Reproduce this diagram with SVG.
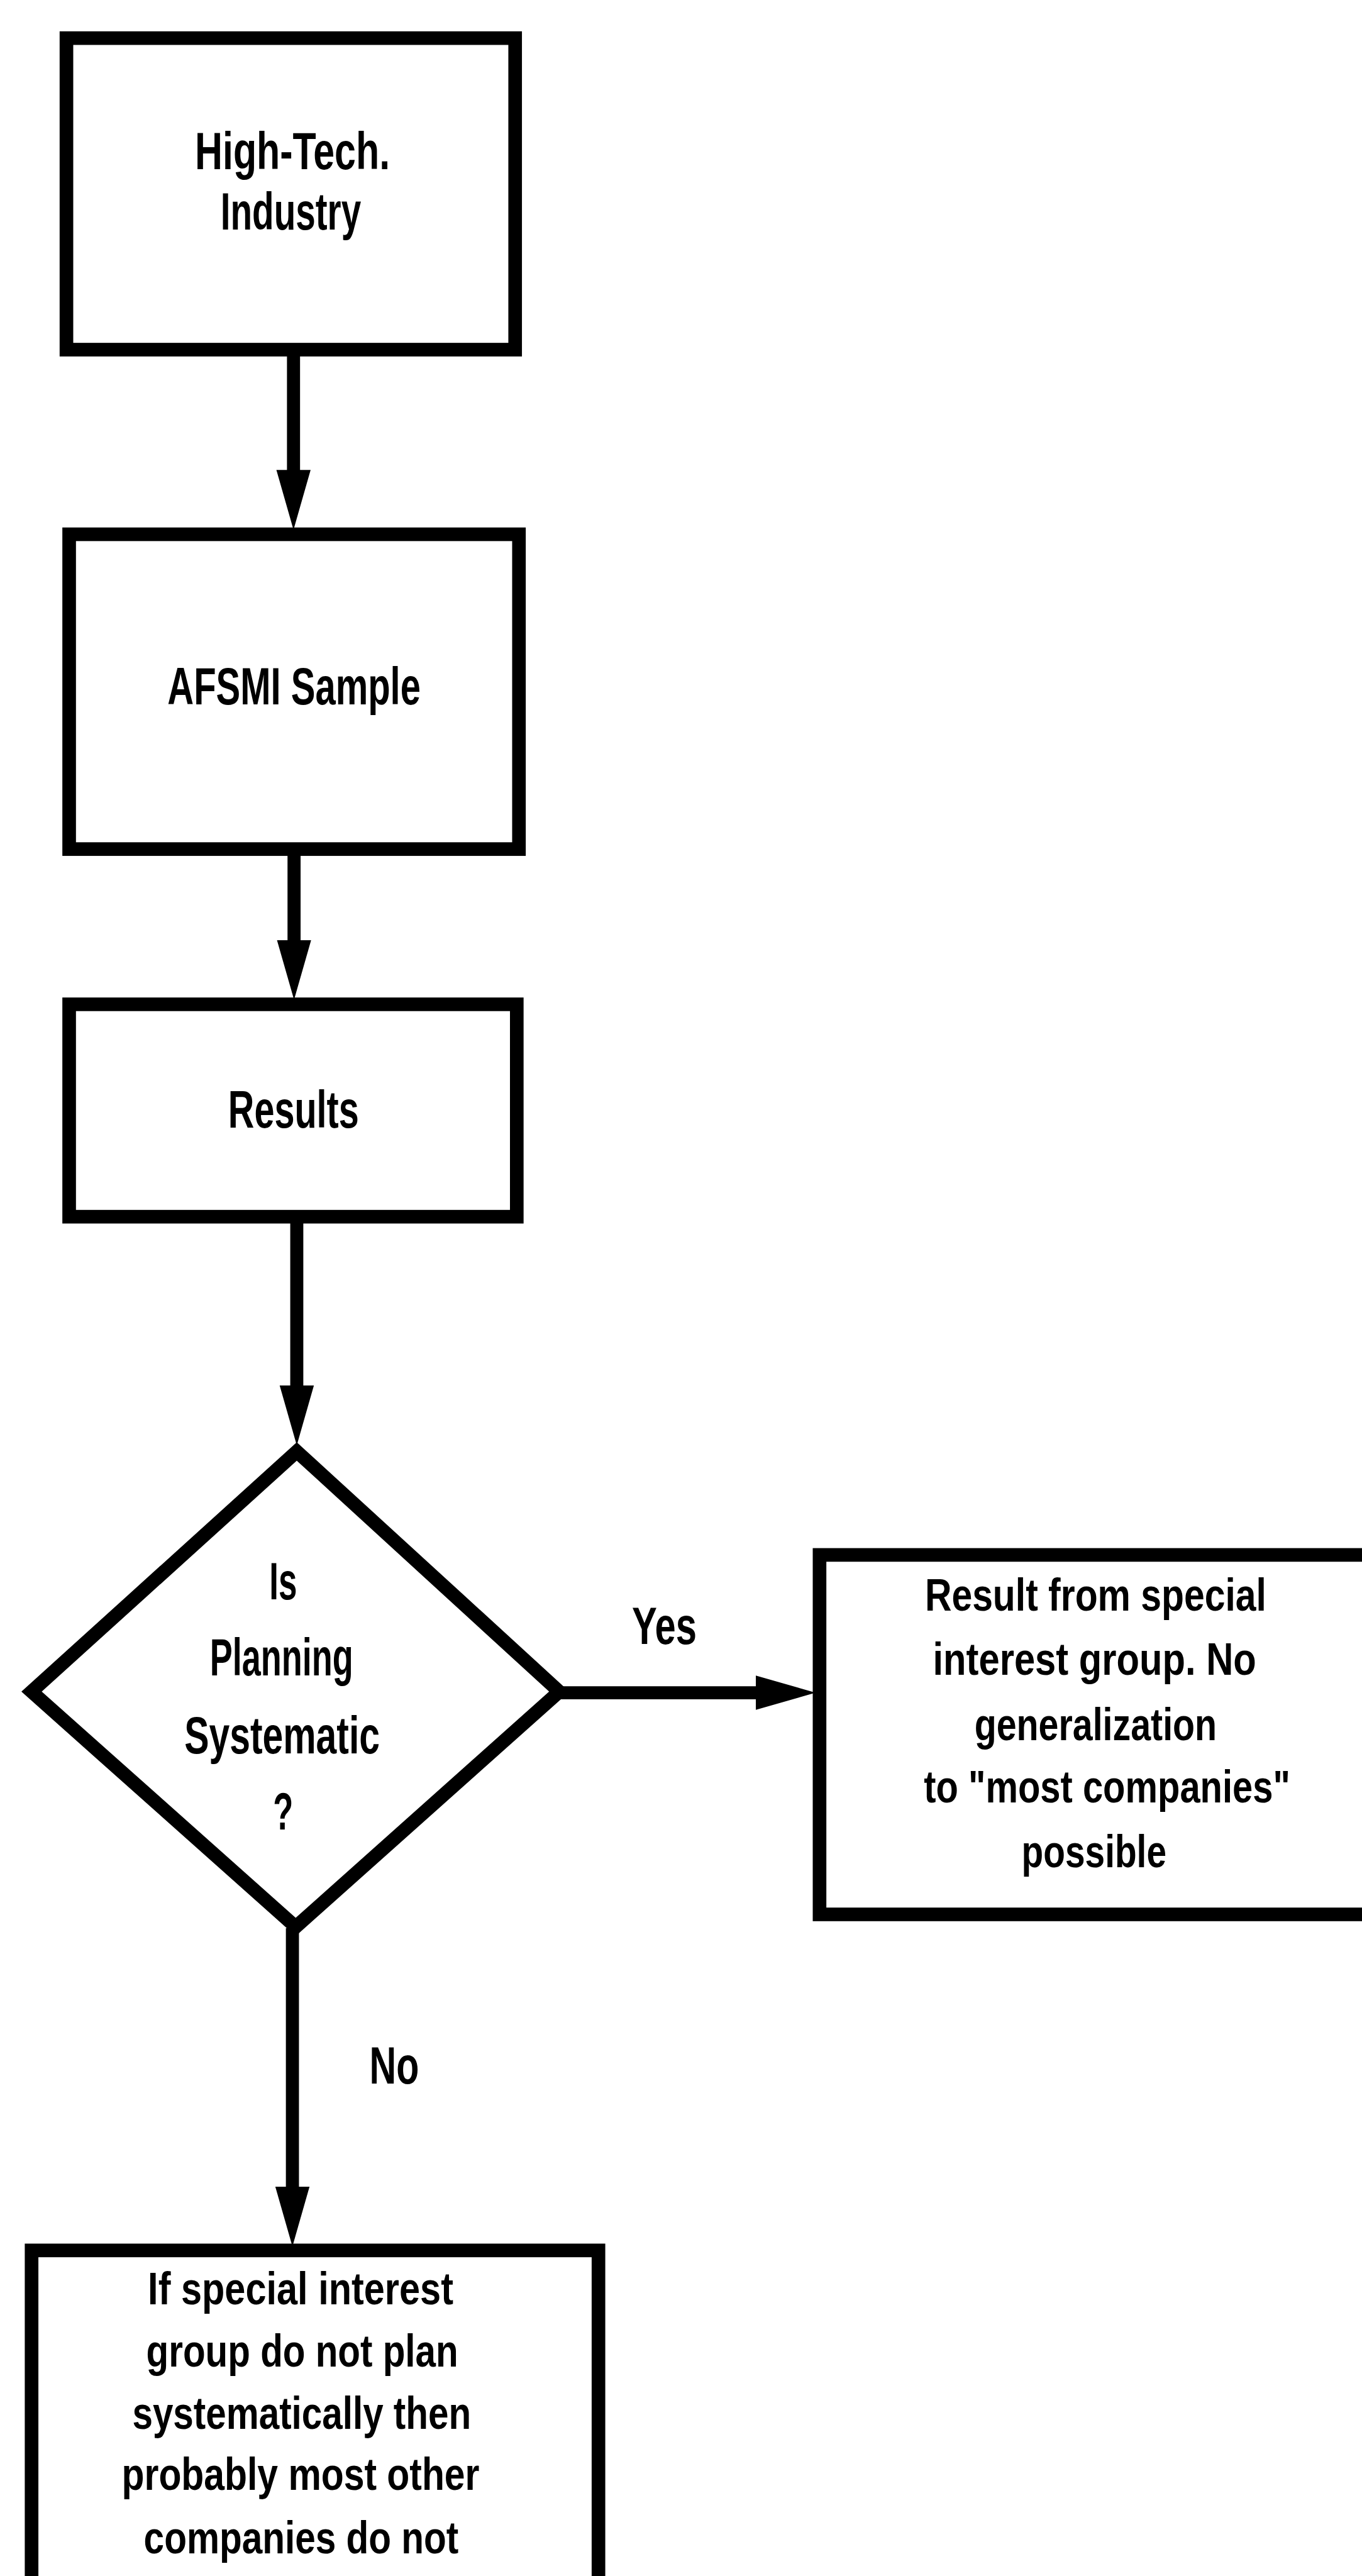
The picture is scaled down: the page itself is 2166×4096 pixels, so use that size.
<svg xmlns="http://www.w3.org/2000/svg" width="2166" height="4096" viewBox="0 0 2166 4096">
  <defs>
    <style>
      .box { fill: #fff; stroke: #000; stroke-width: 25; stroke-linejoin: miter; }
      .edge { fill: none; stroke: #000; stroke-width: 24; }
      text { font-family: "Liberation Sans", Arial, sans-serif; font-weight: bold; fill: #000; text-anchor: middle; }
      .big { font-size: 96px; }
      .small { font-size: 83px; }
    </style>
    <marker id="arrow" markerUnits="userSpaceOnUse" markerWidth="110" markerHeight="64" viewBox="0 0 105 60" refX="3" refY="30" orient="auto">
      <path d="M0,0 L105,30 L0,60 z" fill="#000"/>
    </marker>
  </defs>
  <rect width="2166" height="4096" fill="#fff"/>
  <g transform="scale(0.866)">
    <!-- connectors -->
    <g id="connectors">
      <line class="edge" x1="539" y1="642" x2="539" y2="866" marker-end="url(#arrow)"/>
      <line class="edge" x1="540" y1="1560" x2="540" y2="1729" marker-end="url(#arrow)"/>
      <line class="edge" x1="545" y1="2235" x2="545" y2="2547" marker-end="url(#arrow)"/>
      <line class="edge" x1="1027" y1="3108" x2="1391" y2="3108" marker-end="url(#arrow)"/>
      <line class="edge" x1="537" y1="3540" x2="537" y2="4018" marker-end="url(#arrow)"/>
      <text class="big" x="1220" y="3019" textLength="119" lengthAdjust="spacingAndGlyphs">Yes</text>
      <text class="big" x="724" y="3826" textLength="91" lengthAdjust="spacingAndGlyphs">No</text>
    </g>

    <!-- process boxes -->
    <g id="node-industry">
      <rect class="box" x="122" y="70" width="824" height="572"/>
      <text class="big" x="537" y="311" textLength="358" lengthAdjust="spacingAndGlyphs">High-Tech.</text>
      <text class="big" x="534" y="421" textLength="258" lengthAdjust="spacingAndGlyphs">Industry</text>
    </g>

    <g id="node-sample">
      <rect class="box" x="127" y="981" width="826" height="578"/>
      <text class="big" x="540" y="1293" textLength="465" lengthAdjust="spacingAndGlyphs">AFSMI Sample</text>
    </g>

    <g id="node-results">
      <rect class="box" x="127" y="1844" width="822" height="390"/>
      <text class="big" x="539" y="2070" textLength="240" lengthAdjust="spacingAndGlyphs">Results</text>
    </g>

    <!-- decision -->
    <g id="node-decision">
      <polygon class="box" points="545,2665 1027,3106 543,3538 58,3106"/>
      <text class="big" x="520" y="2937" textLength="51" lengthAdjust="spacingAndGlyphs">Is</text>
      <text class="big" x="517" y="3076" textLength="263" lengthAdjust="spacingAndGlyphs">Planning</text>
      <text class="big" x="518" y="3219" textLength="359" lengthAdjust="spacingAndGlyphs">Systematic</text>
      <text class="big" x="520" y="3359" textLength="37" lengthAdjust="spacingAndGlyphs">?</text>
    </g>

    <!-- outcomes -->
    <g id="node-yes">
      <rect class="box" x="1505" y="2855" width="1100" height="660"/>
      <text class="small" x="2012" y="2957" textLength="627" lengthAdjust="spacingAndGlyphs">Result from special</text>
      <text class="small" x="2010" y="3075" textLength="594" lengthAdjust="spacingAndGlyphs">interest group. No</text>
      <text class="small" x="2012" y="3195" textLength="445" lengthAdjust="spacingAndGlyphs">generalization</text>
      <text class="small" x="2033" y="3310" textLength="673" lengthAdjust="spacingAndGlyphs">to "most companies"</text>
      <text class="small" x="2009" y="3428" textLength="266" lengthAdjust="spacingAndGlyphs">possible</text>
    </g>

    <g id="node-no">
      <rect class="box" x="58" y="4132" width="1041" height="700"/>
      <text class="small" x="552" y="4231" textLength="561" lengthAdjust="spacingAndGlyphs">If special interest</text>
      <text class="small" x="555" y="4345" textLength="573" lengthAdjust="spacingAndGlyphs">group do not plan</text>
      <text class="small" x="554" y="4460" textLength="622" lengthAdjust="spacingAndGlyphs">systematically then</text>
      <text class="small" x="552" y="4572" textLength="657" lengthAdjust="spacingAndGlyphs">probably most other</text>
      <text class="small" x="553" y="4688" textLength="578" lengthAdjust="spacingAndGlyphs">companies do not</text>
    </g>
  </g>
</svg>
